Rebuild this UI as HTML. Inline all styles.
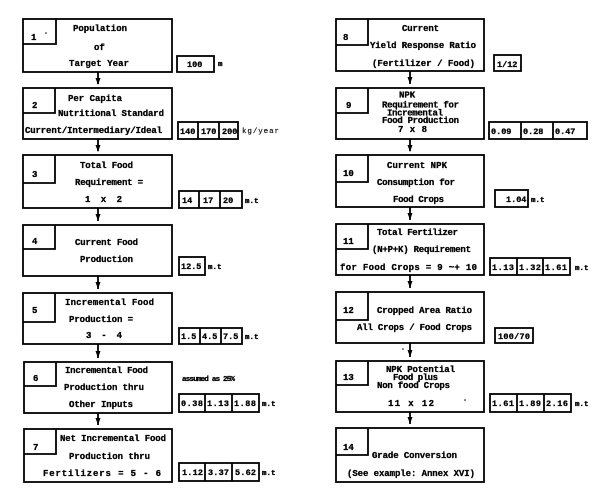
<!DOCTYPE html>
<html>
<head>
<meta charset="utf-8">
<style>
html,body{margin:0;padding:0;background:#fff;}
svg{display:block;}
text{font-family:"Liberation Mono","DejaVu Sans Mono",monospace;font-weight:bold;fill:#000;stroke:#000;stroke-width:0.3;}
.t{font-size:9px;}
.v{font-size:8.5px;}
.u{font-size:7.5px;}
.n{font-weight:normal;stroke-width:0.15;}
</style>
</head>
<body>
<svg width="600" height="494" viewBox="0 0 600 494" xmlns="http://www.w3.org/2000/svg">
<rect x="0" y="0" width="600" height="494" fill="#fff"/>
<g fill="none" stroke="#000" stroke-width="1.8">
<!-- left boxes -->
<rect x="23" y="19" width="149" height="53"/><polyline points="23,44 56,44 56,19"/>
<rect x="23" y="88" width="149" height="51"/><polyline points="23,113 55,113 55,88"/>
<rect x="23" y="155" width="149" height="53"/><polyline points="23,183 55,183 55,155"/>
<rect x="23" y="225" width="149" height="51"/><polyline points="23,249 55,249 55,225"/>
<rect x="23" y="293" width="149" height="51"/><polyline points="23,322 55,322 55,293"/>
<rect x="24" y="362" width="148" height="51"/><polyline points="24,386 56,386 56,362"/>
<rect x="24" y="429" width="148" height="53"/><polyline points="24,454 56,454 56,429"/>
<!-- right boxes -->
<rect x="336" y="19" width="148" height="52"/><polyline points="336,45 368,45 368,19"/>
<rect x="336" y="88" width="148" height="51"/><polyline points="336,113 368,113 368,88"/>
<rect x="336" y="155" width="148" height="52"/><polyline points="336,182 368,182 368,155"/>
<rect x="336" y="224" width="148" height="51"/><polyline points="336,249 368,249 368,224"/>
<rect x="336" y="292" width="148" height="51"/><polyline points="336,320 368,320 368,292"/>
<rect x="336" y="361" width="148" height="51"/><polyline points="336,385 368,385 368,361"/>
<rect x="336" y="428" width="148" height="54"/><polyline points="336,455 368,455 368,428"/>
<!-- value boxes left -->
<rect x="177" y="56" width="37" height="16"/>
<rect x="178" y="122" width="60" height="17"/><line x1="198" y1="122" x2="198" y2="139"/><line x1="219" y1="122" x2="219" y2="139"/>
<rect x="179" y="191" width="63" height="17"/><line x1="199" y1="191" x2="199" y2="208"/><line x1="220" y1="191" x2="220" y2="208"/>
<rect x="179" y="257" width="26" height="18"/>
<rect x="179" y="328" width="63" height="16"/><line x1="200" y1="328" x2="200" y2="344"/><line x1="221" y1="328" x2="221" y2="344"/>
<rect x="179" y="394" width="80" height="18"/><line x1="205" y1="394" x2="205" y2="412"/><line x1="232" y1="394" x2="232" y2="412"/>
<rect x="179" y="463" width="80" height="18"/><line x1="205" y1="463" x2="205" y2="481"/><line x1="232" y1="463" x2="232" y2="481"/>
<!-- value boxes right -->
<rect x="494" y="55" width="27" height="16"/>
<rect x="489" y="122" width="98" height="17"/><line x1="521" y1="122" x2="521" y2="139"/><line x1="553" y1="122" x2="553" y2="139"/>
<rect x="495" y="190" width="33" height="17"/>
<rect x="490" y="258" width="80" height="17"/><line x1="517" y1="258" x2="517" y2="275"/><line x1="543" y1="258" x2="543" y2="275"/>
<rect x="495" y="328" width="38" height="15"/>
<rect x="490" y="394" width="81" height="18"/><line x1="517" y1="394" x2="517" y2="412"/><line x1="544" y1="394" x2="544" y2="412"/>
<!-- arrow shafts -->
<line x1="98" y1="72" x2="98" y2="84"/>
<line x1="98" y1="139" x2="98" y2="151"/>
<line x1="98" y1="208" x2="98" y2="221"/>
<line x1="98" y1="276" x2="98" y2="289"/>
<line x1="98" y1="344" x2="98" y2="358"/>
<line x1="98" y1="413" x2="98" y2="425"/>
<line x1="410" y1="71" x2="410" y2="84"/>
<line x1="410" y1="139" x2="410" y2="151"/>
<line x1="410" y1="207" x2="410" y2="220"/>
<line x1="410" y1="275" x2="410" y2="288"/>
<line x1="410" y1="343" x2="410" y2="357"/>
<line x1="410" y1="412" x2="410" y2="424"/>
</g>
<g fill="#000">
<polygon points="95.5,78 100.5,78 98,85"/>
<polygon points="95.5,145 100.5,145 98,152"/>
<polygon points="95.5,214 100.5,214 98,221"/>
<polygon points="95.5,282 100.5,282 98,289"/>
<polygon points="95.5,351 100.5,351 98,358"/>
<polygon points="95.5,418 100.5,418 98,425"/>
<polygon points="407.5,77 412.5,77 410,84"/>
<polygon points="407.5,145 412.5,145 410,152"/>
<polygon points="407.5,213 412.5,213 410,220"/>
<polygon points="407.5,281 412.5,281 410,288"/>
<polygon points="407.5,350 412.5,350 410,357"/>
<polygon points="407.5,417 412.5,417 410,424"/>
<circle cx="403" cy="349" r="0.8"/>
<circle cx="465" cy="400" r="0.8"/>
<circle cx="46" cy="33" r="0.8"/>
</g>

<!-- left column text -->
<text class="t" x="31" y="40">1</text>
<text class="t" x="73" y="31" textLength="54">Population</text>
<text class="t" x="94" y="50">of</text>
<text class="t" x="69" y="66" textLength="60">Target Year</text>

<text class="t" x="32" y="108">2</text>
<text class="t" x="68" y="101" textLength="54">Per Capita</text>
<text class="t" x="58" y="116" textLength="106">Nutritional Standard</text>
<text class="t" x="25" y="133" textLength="137">Current/Intermediary/Ideal</text>

<text class="t" x="32" y="177">3</text>
<text class="t" x="80" y="168" textLength="53">Total Food</text>
<text class="t" x="75" y="185" textLength="68">Requirement =</text>
<text class="t" x="85" y="202" textLength="37">1  x  2</text>

<text class="t" x="32" y="244">4</text>
<text class="t" x="75" y="245" textLength="63">Current Food</text>
<text class="t" x="80" y="262" textLength="53">Production</text>

<text class="t" x="32" y="313">5</text>
<text class="t" x="65" y="305" textLength="89">Incremental  Food</text>
<text class="t" x="69" y="322" textLength="64">Production =</text>
<text class="t" x="86" y="338" textLength="36">3  -  4</text>

<text class="t" x="33" y="381">6</text>
<text class="t" x="65" y="373" textLength="83">Incremental Food</text>
<text class="t" x="64" y="390" textLength="80">Production thru</text>
<text class="t" x="69" y="407" textLength="64">Other Inputs</text>
<text class="u" x="182" y="381" textLength="53">assumed as 25%</text>

<text class="t" x="33" y="450">7</text>
<text class="t" x="60" y="441" textLength="106">Net Incremental Food</text>
<text class="t" x="69" y="459" textLength="81">Production thru</text>
<text class="t" x="43" y="476" textLength="118">Fertilizers =  5  -  6</text>

<!-- left values -->
<text class="v" x="187" y="67">100</text>
<text class="u" x="218" y="66">m</text>
<text class="v" x="180" y="134">140</text>
<text class="v" x="201" y="134">170</text>
<text class="v" x="222" y="134">200</text>
<text class="u n" x="242" y="133" textLength="37">kg/year</text>
<text class="v" x="182" y="203">14</text>
<text class="v" x="203" y="203">17</text>
<text class="v" x="223" y="203">20</text>
<text class="u" x="245" y="203">m.t</text>
<text class="v" x="181" y="269">12.5</text>
<text class="u" x="208" y="269">m.t</text>
<text class="v" x="181" y="339">1.5</text>
<text class="v" x="202" y="339">4.5</text>
<text class="v" x="223" y="339">7.5</text>
<text class="u" x="245" y="339">m.t</text>
<text class="v" x="181" y="406" textLength="22">0.38</text>
<text class="v" x="207" y="406" textLength="22">1.13</text>
<text class="v" x="234" y="406" textLength="22">1.88</text>
<text class="u" x="262" y="406">m.t</text>
<text class="v" x="182" y="475" textLength="21">1.12</text>
<text class="v" x="208" y="475" textLength="21">3.37</text>
<text class="v" x="235" y="475" textLength="21">5.62</text>
<text class="u" x="262" y="475">m.t</text>

<!-- right column text -->
<text class="t" x="343" y="40">8</text>
<text class="t" x="402" y="31" textLength="37">Current</text>
<text class="t" x="370" y="48" textLength="106">Yield Response Ratio</text>
<text class="t" x="372" y="66" textLength="103">(Fertilizer / Food)</text>

<text class="t" x="346" y="108">9</text>
<text class="t" x="399" y="97.5">NPK</text>
<text class="t" x="382" y="107.5" textLength="77">Requirement for</text>
<text class="t" x="387" y="115.5" textLength="56">Incremental</text>
<text class="t" x="382" y="123" textLength="77">Food Production</text>
<text class="t" x="398" y="132" textLength="29">7  x  8</text>

<text class="t" x="343" y="176">10</text>
<text class="t" x="387" y="168" textLength="60">Current NPK</text>
<text class="t" x="377" y="185" textLength="78">Consumption for</text>
<text class="t" x="393" y="202" textLength="51">Food Crops</text>

<text class="t" x="343" y="244">11</text>
<text class="t" x="377" y="235" textLength="81">Total Fertilizer</text>
<text class="t" x="372" y="252" textLength="99">(N+P+K) Requirement</text>
<text class="t" x="340" y="270" textLength="137">for Food Crops =  9 ~+  10</text>

<text class="t" x="343" y="313">12</text>
<text class="t" x="377" y="313" textLength="95">Cropped Area Ratio</text>
<text class="t" x="357" y="330" textLength="115">All Crops / Food Crops</text>

<text class="t" x="343" y="380">13</text>
<text class="t" x="386" y="372" textLength="69">NPK Potential</text>
<text class="t" x="393" y="380" textLength="45">Food plus</text>
<text class="t" x="377" y="388" textLength="73">Non food Crops</text>
<text class="t" x="388" y="406" textLength="46">11  x  12</text>

<text class="t" x="343" y="450">14</text>
<text class="t" x="372" y="458" textLength="85">Grade Conversion</text>
<text class="t" x="347" y="476" textLength="128">(See example: Annex XVI)</text>

<!-- right values -->
<text class="v" x="497" y="67">1/12</text>
<text class="v" x="491" y="134">0.09</text>
<text class="v" x="523" y="134">0.28</text>
<text class="v" x="555" y="134">0.47</text>
<text class="v" x="506" y="202">1.04</text>
<text class="u" x="531" y="202">m.t</text>
<text class="v" x="492" y="270" textLength="22">1.13</text>
<text class="v" x="519" y="270" textLength="22">1.32</text>
<text class="v" x="545" y="270" textLength="22">1.61</text>
<text class="u" x="575" y="270">m.t</text>
<text class="v" x="498" y="339" textLength="32">100/70</text>
<text class="v" x="492" y="406" textLength="22">1.61</text>
<text class="v" x="519" y="406" textLength="22">1.89</text>
<text class="v" x="546" y="406" textLength="22">2.16</text>
<text class="u" x="575" y="406">m.t</text>
</svg>
</body>
</html>
